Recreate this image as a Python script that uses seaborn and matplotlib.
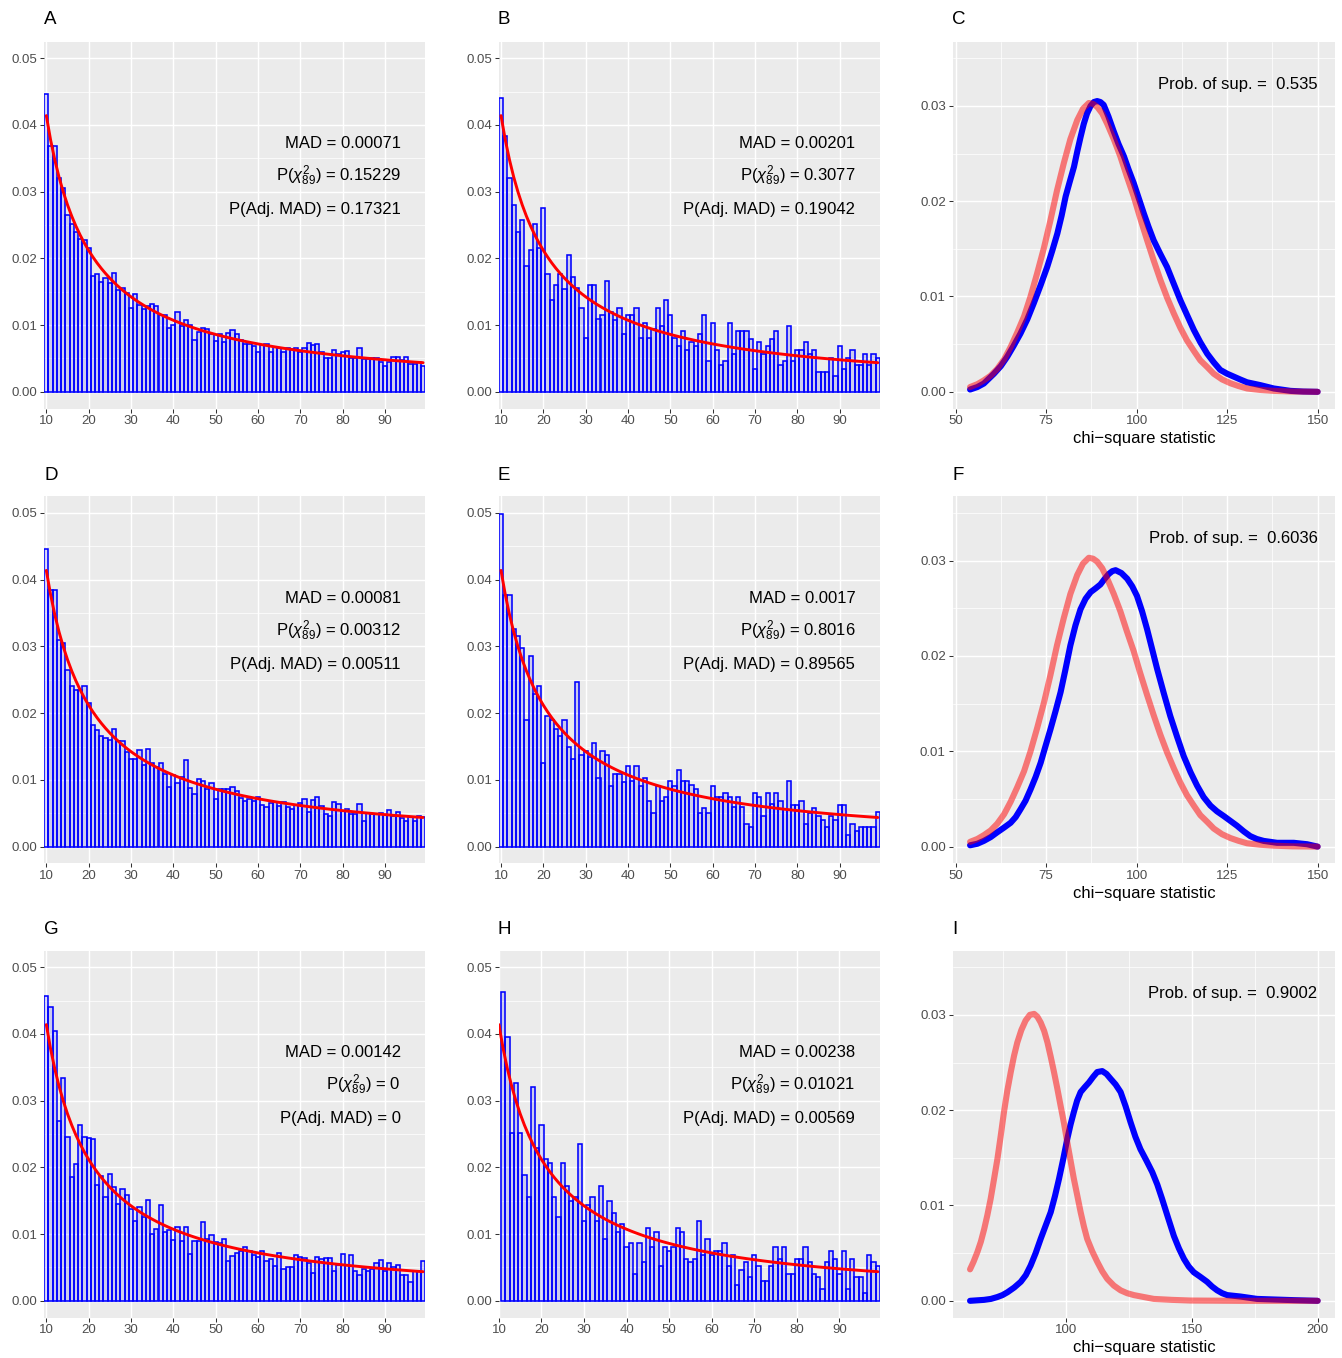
import numpy as np
import pandas as pd
import matplotlib
matplotlib.use("Agg")
import matplotlib.pyplot as plt
from matplotlib.ticker import FixedLocator, FixedFormatter
import seaborn as sns

# ---------------------------------------------------------------------------
# Data
# ---------------------------------------------------------------------------
digits = list(range(10, 100))

# Benford expected proportions for first-two digits 10..99
benford = [
    0.041393, 0.037789, 0.034762, 0.032185, 0.029963, 0.028029, 0.026329, 0.024824, 0.023481, 0.022277,
    0.021189, 0.020204, 0.019305, 0.018483, 0.017729, 0.017033, 0.016390, 0.015794, 0.015240, 0.014723,
    0.014240, 0.013788, 0.013364, 0.012965, 0.012589, 0.012235, 0.011899, 0.011582, 0.011281, 0.010995,
    0.010724, 0.010465, 0.010219, 0.0099842, 0.0097598, 0.0095453, 0.0093400, 0.0091433, 0.0089548, 0.0087739,
    0.0086002, 0.0084332, 0.0082725, 0.0081179, 0.0079689, 0.0078253, 0.0076868, 0.0075532, 0.0074240, 0.0072993,
    0.0071786, 0.0070619, 0.0069488, 0.0068394, 0.0067334, 0.0066306, 0.0065308, 0.0064341, 0.0063402, 0.0062489,
    0.0061603, 0.0060741, 0.0059904, 0.0059089, 0.0058296, 0.0057524, 0.0056772, 0.0056039, 0.0055325, 0.0054629,
    0.0053950, 0.0053288, 0.0052642, 0.0052012, 0.0051396, 0.0050795, 0.0050208, 0.0049634, 0.0049073, 0.0048525,
    0.0047988, 0.0047464, 0.0046951, 0.0046449, 0.0045957, 0.0045476, 0.0045005, 0.0044543, 0.0044091, 0.0043648,
]

# Observed first-two-digit proportions (per mille), digits 10..99
obs_A = [
    44.6, 36.9, 36.9, 32.0, 30.6, 26.5, 25.1, 24.0, 22.9, 22.7,
    21.6, 17.3, 17.7, 16.5, 17.0, 16.3, 17.8, 15.2, 15.5, 14.8,
    12.5, 14.7, 13.0, 12.4, 12.8, 13.2, 12.9, 11.5, 11.5, 9.6,
    10.0, 11.9, 9.9, 10.8, 10.0, 7.7, 9.0, 9.5, 9.4, 8.6,
    7.6, 8.7, 7.4, 8.8, 9.2, 8.6, 7.7, 7.1, 7.1, 6.9,
    6.0, 7.0, 7.2, 6.0, 6.7, 6.5, 6.0, 6.5, 6.4, 6.5,
    6.0, 6.5, 7.3, 7.0, 7.2, 6.0, 5.0, 5.1, 6.2, 5.6,
    6.0, 6.1, 5.0, 5.0, 6.6, 4.9, 4.9, 5.0, 5.1, 4.4,
    3.9, 4.5, 5.2, 5.2, 4.7, 5.2, 4.1, 4.1, 4.5, 3.9,
]
obs_B = [
    44.1, 38.4, 32.0, 28.0, 24.0, 25.8, 18.9, 21.2, 25.2, 21.5,
    27.5, 17.7, 13.7, 16.0, 17.7, 15.4, 20.5, 17.2, 15.5, 12.6,
    8.0, 16.0, 16.0, 10.9, 11.5, 16.6, 12.0, 10.8, 12.6, 8.6,
    11.5, 11.5, 12.6, 8.0, 10.3, 8.0, 9.4, 12.6, 9.9, 13.7,
    11.5, 8.1, 6.9, 9.1, 6.3, 7.4, 6.9, 8.6, 11.5, 4.6,
    10.3, 6.3, 4.0, 4.6, 10.3, 5.7, 9.1, 9.1, 9.1, 7.9,
    3.4, 7.4, 5.7, 6.9, 7.9, 9.1, 4.0, 4.6, 9.8, 4.6,
    6.3, 6.3, 7.4, 5.7, 6.3, 2.9, 2.9, 2.9, 5.1, 2.3,
    6.9, 3.4, 5.1, 6.3, 4.0, 4.0, 5.7, 4.0, 5.7, 5.1,
]
obs_D = [
    44.6, 38.5, 38.5, 30.9, 30.5, 26.4, 24.0, 23.5, 23.5, 24.0,
    21.5, 18.2, 17.5, 16.6, 16.3, 16.0, 17.6, 15.9, 15.8, 14.2,
    13.1, 13.2, 14.5, 12.2, 14.7, 12.6, 11.9, 12.5, 10.9, 9.0,
    10.8, 9.6, 10.5, 13.0, 8.8, 7.9, 10.2, 9.8, 8.6, 9.6,
    7.2, 8.6, 8.7, 8.6, 9.0, 8.4, 7.3, 6.8, 7.1, 6.9,
    7.4, 6.3, 6.0, 6.6, 6.7, 6.1, 6.7, 6.0, 5.7, 6.3,
    6.5, 7.2, 5.2, 7.0, 7.4, 6.1, 4.9, 4.6, 6.7, 6.4,
    5.3, 5.6, 4.9, 4.9, 6.4, 3.9, 5.0, 4.9, 4.9, 5.1,
    4.8, 5.5, 4.6, 5.2, 4.3, 3.9, 4.5, 3.9, 4.6, 4.5,
]
obs_E = [
    49.8, 37.7, 37.7, 32.6, 31.5, 29.8, 19.0, 28.6, 22.9, 24.0,
    12.5, 19.5, 19.0, 17.6, 16.6, 19.0, 14.9, 13.1, 24.6, 13.8,
    14.3, 13.4, 15.6, 10.3, 14.3, 13.7, 9.1, 10.9, 10.9, 9.7,
    12.1, 9.9, 12.1, 9.1, 10.3, 6.9, 5.1, 9.1, 6.9, 7.5,
    9.8, 9.1, 11.5, 9.8, 9.8, 9.2, 8.7, 5.1, 5.8, 5.1,
    9.1, 7.4, 7.4, 8.0, 7.4, 5.9, 7.4, 5.9, 3.4, 2.9,
    8.0, 7.4, 4.6, 8.0, 6.4, 8.0, 6.9, 5.6, 9.8, 6.2,
    6.2, 6.9, 3.4, 5.0, 5.8, 4.6, 4.0, 2.9, 4.6, 4.0,
    6.2, 6.2, 1.8, 3.4, 2.4, 2.9, 2.9, 2.9, 2.9, 5.2,
]
obs_G = [
    45.7, 44.1, 40.4, 26.9, 33.4, 24.5, 18.5, 20.5, 26.4, 24.5,
    24.4, 24.2, 17.4, 18.7, 15.5, 19.0, 17.1, 14.5, 16.8, 15.9,
    13.8, 12.0, 14.1, 12.6, 15.1, 10.0, 10.8, 14.3, 10.3, 10.6,
    9.1, 11.0, 8.9, 11.0, 7.0, 8.9, 8.9, 11.8, 9.3, 9.9,
    8.8, 8.7, 9.3, 6.0, 6.7, 7.1, 7.5, 8.0, 7.4, 6.8,
    6.5, 7.4, 6.0, 6.3, 5.2, 7.1, 4.7, 5.0, 5.0, 6.9,
    6.5, 6.4, 5.6, 4.1, 6.5, 6.3, 6.4, 6.4, 4.5, 5.4,
    7.0, 5.4, 6.9, 4.5, 3.9, 4.8, 4.5, 4.7, 5.7, 6.1,
    4.4, 5.6, 5.0, 5.3, 3.8, 3.8, 2.8, 4.4, 4.4, 6.0,
]
obs_H = [
    0.0, 46.3, 39.5, 25.2, 32.6, 25.2, 18.9, 15.5, 32.1, 22.9,
    26.3, 21.2, 20.6, 15.5, 12.6, 20.6, 17.2, 14.9, 15.5, 23.5,
    12.0, 14.3, 15.5, 12.0, 17.2, 9.2, 14.9, 13.2, 10.3, 11.5,
    8.0, 8.6, 4.0, 8.6, 5.8, 10.9, 8.0, 10.3, 5.2, 8.0,
    7.5, 8.0, 10.9, 10.3, 6.3, 5.8, 6.3, 12.0, 6.9, 9.2,
    6.9, 7.5, 7.5, 8.6, 5.2, 6.9, 2.3, 4.6, 5.8, 3.5,
    6.9, 5.2, 3.0, 3.0, 5.2, 8.0, 6.3, 8.0, 4.0, 4.0,
    6.3, 6.3, 8.0, 5.8, 4.0, 3.5, 1.8, 5.8, 7.5, 6.3,
    4.0, 7.5, 1.8, 6.3, 3.5, 3.5, 1.2, 6.9, 5.8, 5.2,
]

stats_A = ("0.00071", "0.15229", "0.17321")
stats_B = ("0.00201", "0.3077", "0.19042")
stats_D = ("0.00081", "0.00312", "0.00511")
stats_E = ("0.0017", "0.8016", "0.89565")
stats_G = ("0.00142", "0", "0")
stats_H = ("0.00238", "0.01021", "0.00569")

# Density of simulated chi-square statistics (reference, red) and observed (blue)
ref_x = [54.0, 56.0, 57.8, 59.7, 61.5, 63.4, 65.2, 67.0, 68.9, 70.7, 72.5, 74.4, 76.2,
         78.0, 79.9, 81.7, 83.6, 85.2, 86.8, 88.0, 89.1, 90.5, 91.9, 93.7, 95.5, 97.3,
         99.2, 101.0, 102.9, 104.7, 106.6, 108.4, 110.3, 112.1, 113.9, 115.8, 117.6,
         119.5, 121.3, 123.6, 125.9, 128.2, 130.5, 134.0, 137.9, 143.0, 150.0]
ref_y = [0.0005, 0.0008, 0.0012, 0.0017, 0.0024, 0.0034, 0.0047, 0.0062, 0.0079, 0.0100,
         0.0124, 0.0151, 0.0180, 0.0211, 0.0240, 0.0265, 0.0285, 0.0297, 0.0303, 0.0302,
         0.0299, 0.0292, 0.0281, 0.0265, 0.0247, 0.0226, 0.0205, 0.0182, 0.0159, 0.0138,
         0.0117, 0.0099, 0.0082, 0.0067, 0.0054, 0.0043, 0.0033, 0.0026, 0.0019, 0.0013,
         0.0009, 0.0006, 0.00035, 0.0002, 0.0001, 0.00003, 0.0]

obs_x_C = [54.0, 56.0, 57.8, 60.6, 62.5, 64.3, 66.0, 67.9, 69.8, 71.6, 73.5, 75.3, 76.7,
           78.1, 79.3, 80.4, 81.5, 82.7, 83.6, 84.5, 85.4, 86.3, 87.3, 88.2, 89.1, 90.0,
           90.9, 92.2, 93.6, 95.0, 96.5, 97.8, 99.2, 100.6, 102.0, 103.3, 104.7, 106.5,
           108.4, 110.3, 112.1, 114.0, 115.8, 117.6, 119.5, 121.3, 123.1, 125.0, 126.8,
           128.6, 130.5, 134.2, 137.9, 142.5, 146.0, 150.0]
obs_y_C = [0.00024, 0.0005, 0.00087, 0.0019, 0.0027, 0.0037, 0.0048, 0.0061, 0.0076, 0.0093,
           0.0112, 0.0131, 0.0148, 0.0166, 0.0185, 0.0205, 0.0220, 0.0236, 0.0252, 0.0267,
           0.0281, 0.0292, 0.0300, 0.0304, 0.0305, 0.0304, 0.0301, 0.0289, 0.0274, 0.0260,
           0.0247, 0.0233, 0.0219, 0.0203, 0.0187, 0.0173, 0.0159, 0.0145, 0.0131, 0.0113,
           0.0096, 0.0080, 0.0065, 0.0052, 0.0040, 0.0031, 0.0023, 0.0019, 0.0016, 0.0013,
           0.0010, 0.0007, 0.00035, 0.0001, 0.00003, 0.0]

obs_x_F = [54.0, 56.0, 57.8, 59.7, 61.5, 63.4, 65.2, 66.6, 67.9, 69.3, 70.7, 72.1, 73.5,
           74.8, 76.2, 77.6, 79.0, 80.3, 81.7, 83.1, 84.5, 85.9, 87.3, 88.7, 90.0, 91.2,
           92.3, 93.3, 94.2, 95.8, 97.4, 98.8, 100.1, 101.5, 102.9, 104.3, 105.7, 107.5,
           109.3, 111.2, 113.0, 114.9, 116.7, 118.5, 120.4, 122.2, 124.1, 125.9, 127.7,
           129.6, 131.4, 133.2, 135.1, 138.8, 143.4, 147.1, 150.0]
obs_y_F = [0.00014, 0.0003, 0.0006, 0.0010, 0.0015, 0.0020, 0.0025, 0.0031, 0.0039, 0.0048,
           0.0060, 0.0073, 0.0088, 0.0105, 0.0123, 0.0142, 0.0162, 0.0185, 0.0211, 0.0232,
           0.0249, 0.0260, 0.0267, 0.0271, 0.0275, 0.0281, 0.0286, 0.0289, 0.0290, 0.0287,
           0.0281, 0.0273, 0.0263, 0.0247, 0.0228, 0.0207, 0.0186, 0.0161, 0.0137, 0.0115,
           0.0095, 0.0078, 0.0064, 0.0052, 0.0043, 0.0037, 0.0032, 0.0027, 0.0022, 0.0016,
           0.0011, 0.0008, 0.0006, 0.0004, 0.0004, 0.00025, 0.0]

ref_x_I = [61.7, 63.1, 64.6, 66.0, 67.3, 68.6, 69.9, 71.2, 72.6, 73.9, 75.2, 76.5, 77.9,
           79.2, 80.5, 82.1, 83.8, 85.5, 87.2, 88.5, 89.8, 91.2, 92.5, 93.8, 95.1, 96.4,
           97.7, 99.1, 100.4, 101.7, 103.0, 104.4, 105.7, 107.0, 108.3, 110.3, 112.3,
           114.3, 116.3, 118.9, 121.6, 124.2, 126.9, 130.8, 134.8, 142.0, 149.4, 169.3, 200.0]
ref_y_I = [0.0033, 0.0041, 0.0051, 0.0062, 0.0075, 0.0090, 0.0107, 0.0127, 0.0149, 0.0173,
           0.0198, 0.0220, 0.0240, 0.0257, 0.0271, 0.0284, 0.0294, 0.0300, 0.0301, 0.0298,
           0.0292, 0.0283, 0.0271, 0.0256, 0.0240, 0.0223, 0.0205, 0.0186, 0.0166, 0.0147,
           0.0128, 0.0110, 0.0093, 0.0078, 0.0065, 0.0052, 0.0041, 0.0031, 0.0023, 0.0016,
           0.0011, 0.0008, 0.0006, 0.0004, 0.0002, 0.0001, 0.00003, 0.0, 0.0]

obs_x_I = [61.7, 67.3, 70.0, 72.6, 74.6, 76.6, 79.3, 81.9, 83.9, 85.8, 87.8, 89.8, 91.8,
           93.8, 95.5, 97.1, 98.8, 100.4, 101.7, 103.0, 104.3, 105.7, 107.3, 109.0, 110.7,
           112.3, 114.3, 116.0, 117.6, 119.6, 121.6, 123.6, 125.6, 127.5, 129.5, 131.9,
           134.2, 136.2, 138.1, 140.5, 142.8, 144.8, 146.8, 148.7, 150.7, 153.4, 156.0,
           158.0, 160.0, 162.0, 164.0, 169.3, 175.9, 182.5, 190.5, 200.0]
obs_y_I = [0.0, 0.0001, 0.0002, 0.0004, 0.0006, 0.0009, 0.0014, 0.0020, 0.0027, 0.0037,
           0.0050, 0.0065, 0.0079, 0.0093, 0.0110, 0.0128, 0.0149, 0.0170, 0.0185, 0.0198,
           0.0210, 0.0219, 0.0224, 0.0229, 0.0235, 0.0240, 0.0241, 0.0238, 0.0233, 0.0227,
           0.0219, 0.0204, 0.0187, 0.0172, 0.0159, 0.0147, 0.0135, 0.0122, 0.0107, 0.0087,
           0.0068, 0.0055, 0.0044, 0.0036, 0.0030, 0.0025, 0.0020, 0.0015, 0.0011, 0.0008,
           0.0006, 0.00045, 0.0002, 0.00014, 0.00007, 0.0]

prob_sup = {"C": "0.535", "F": "0.6036", "I": "0.9002"}

# ---------------------------------------------------------------------------
# Style
# ---------------------------------------------------------------------------
sns.set_theme(style="darkgrid")
plt.rcParams["font.family"] = ["Liberation Sans", "DejaVu Sans"]
plt.rcParams["mathtext.fontset"] = "custom"
plt.rcParams["mathtext.rm"] = "Liberation Sans"
plt.rcParams["mathtext.it"] = "Liberation Sans:italic"
plt.rcParams["mathtext.bf"] = "Liberation Sans:bold"

W, H = 1342, 1358
fig = plt.figure(figsize=(W / 100, H / 100), dpi=100)
fig.patch.set_facecolor("white")

PANEL_BG = "#EBEBEB"
TICK_LABEL = "#4D4D4D"
TICK_COLOR = "#333333"

col_left = [44.2, 498.9, 952.7]
col_width = [381.0, 381.0, 382.3]
row_top = [41.5, 496.3, 950.5]
row_height = 367.0


def make_axes(r, c):
    l = col_left[c] / W
    b = 1 - (row_top[r] + row_height) / H
    return fig.add_axes([l, b, col_width[c] / W, row_height / H])


def style_axes(ax, xmaj, xmin, ymaj, ymin, xfmt, yfmt):
    ax.set_facecolor(PANEL_BG)
    for s in ax.spines.values():
        s.set_visible(False)
    ax.xaxis.set_major_locator(FixedLocator(xmaj))
    ax.xaxis.set_major_formatter(FixedFormatter([xfmt(v) for v in xmaj]))
    ax.yaxis.set_major_locator(FixedLocator(ymaj))
    ax.yaxis.set_major_formatter(FixedFormatter([yfmt(v) for v in ymaj]))
    ax.xaxis.set_minor_locator(FixedLocator(xmin))
    ax.yaxis.set_minor_locator(FixedLocator(ymin))
    ax.set_axisbelow(True)
    ax.grid(False)
    ax.grid(which="major", color="white", linewidth=1.07)
    ax.grid(which="minor", color="white", linewidth=0.53)
    ax.tick_params(which="major", length=2.75, width=0.75, color=TICK_COLOR,
                   labelcolor=TICK_LABEL, labelsize=9.5, pad=2.2,
                   bottom=True, left=True)
    ax.tick_params(which="minor", length=0)
    ax.set_xlabel("")
    ax.set_ylabel("")


def bar_panel(ax, obs, stats, xlo):
    df = pd.DataFrame({"digit": digits, "prop": np.array(obs) / 1000.0,
                       "expected": benford})
    shown = df[df["prop"] > 0]
    sns.barplot(data=shown, x="digit", y="prop", native_scale=True, width=1.0,
                errorbar=None, color="blue", saturation=1, edgecolor="blue",
                linewidth=1.15, ax=ax)
    for p in ax.patches:
        p.set_facecolor((0, 0, 1, 0.13))
        p.set_edgecolor("#0000ff")
    sns.lineplot(data=df, x="digit", y="expected", color="red", linewidth=2.1, ax=ax)
    ax.set_xlim(xlo, 99.5)
    ax.set_ylim(-0.0025, 0.0525)
    style_axes(ax, list(range(10, 100, 10)), [],
               [0.0, 0.01, 0.02, 0.03, 0.04, 0.05],
               [0.005, 0.015, 0.025, 0.035, 0.045],
               lambda v: f"{int(v)}", lambda v: f"{v:.2f}")
    mad, pchi, padj = stats
    kw = dict(ha="right", va="baseline", fontsize=12, color="black")
    ax.text(93.7, 0.0375 - 0.00092, f"MAD = {mad}", **kw)
    ax.text(93.7, 0.0325 - 0.00092, r"$\mathrm{P}(\chi^{2}_{89})$ = " + pchi, **kw)
    ax.text(93.7, 0.0275 - 0.00092, f"P(Adj. MAD) = {padj}", **kw)


def density_panel(ax, rx, ry, ox, oy, label, xlim, xmaj, xmin):
    sns.lineplot(x=ox, y=oy, color="blue", linewidth=4.4, ax=ax,
                 solid_capstyle="round", solid_joinstyle="round")
    sns.lineplot(x=rx, y=ry, color="red", alpha=0.5, linewidth=4.4, ax=ax,
                 solid_capstyle="round", solid_joinstyle="round")
    ax.set_xlim(*xlim)
    ax.set_ylim(-0.00175, 0.03675)
    style_axes(ax, xmaj, xmin, [0.0, 0.01, 0.02, 0.03],
               [0.005, 0.015, 0.025, 0.035],
               lambda v: f"{int(v)}", lambda v: f"{v:.2f}")
    ax.set_xlabel("chi\u2212square statistic", fontsize=12, color="black", labelpad=2.5)
    ax.text(xlim[1] - (xlim[1] - xlim[0]) * 0.05 / 1.1, 0.0325 - 0.0007,
            f"Prob. of sup. =  {prob_sup[label]}", ha="right", va="baseline",
            fontsize=12, color="black")


panels = {
    "A": (0, 0), "B": (0, 1), "C": (0, 2),
    "D": (1, 0), "E": (1, 1), "F": (1, 2),
    "G": (2, 0), "H": (2, 1), "I": (2, 2),
}
axes = {k: make_axes(*rc) for k, rc in panels.items()}

bar_panel(axes["A"], obs_A, stats_A, 9.5)
bar_panel(axes["B"], obs_B, stats_B, 9.5)
bar_panel(axes["D"], obs_D, stats_D, 9.5)
bar_panel(axes["E"], obs_E, stats_E, 9.5)
bar_panel(axes["G"], obs_G, stats_G, 9.5)
bar_panel(axes["H"], obs_H, stats_H, 10.0)

density_panel(axes["C"], ref_x, ref_y, obs_x_C, obs_y_C, "C", (49.2, 154.8),
              [50, 75, 100, 125, 150], [62.5, 87.5, 112.5, 137.5])
density_panel(axes["F"], ref_x, ref_y, obs_x_F, obs_y_F, "F", (49.2, 154.8),
              [50, 75, 100, 125, 150], [62.5, 87.5, 112.5, 137.5])
density_panel(axes["I"], ref_x_I, ref_y_I, obs_x_I, obs_y_I, "I", (54.8, 206.9),
              [100, 150, 200], [75, 125, 175])

# Panel tags
tag_x = [44, 498, 952]
tag_y = [20, 475, 930]
for k, (r, c) in panels.items():
    fig.text(tag_x[c] / W, 1 - tag_y[r] / H, k, fontsize=13.5, ha="left",
             va="center", color="black")

fig.savefig("out.png", dpi=100, facecolor="white")
